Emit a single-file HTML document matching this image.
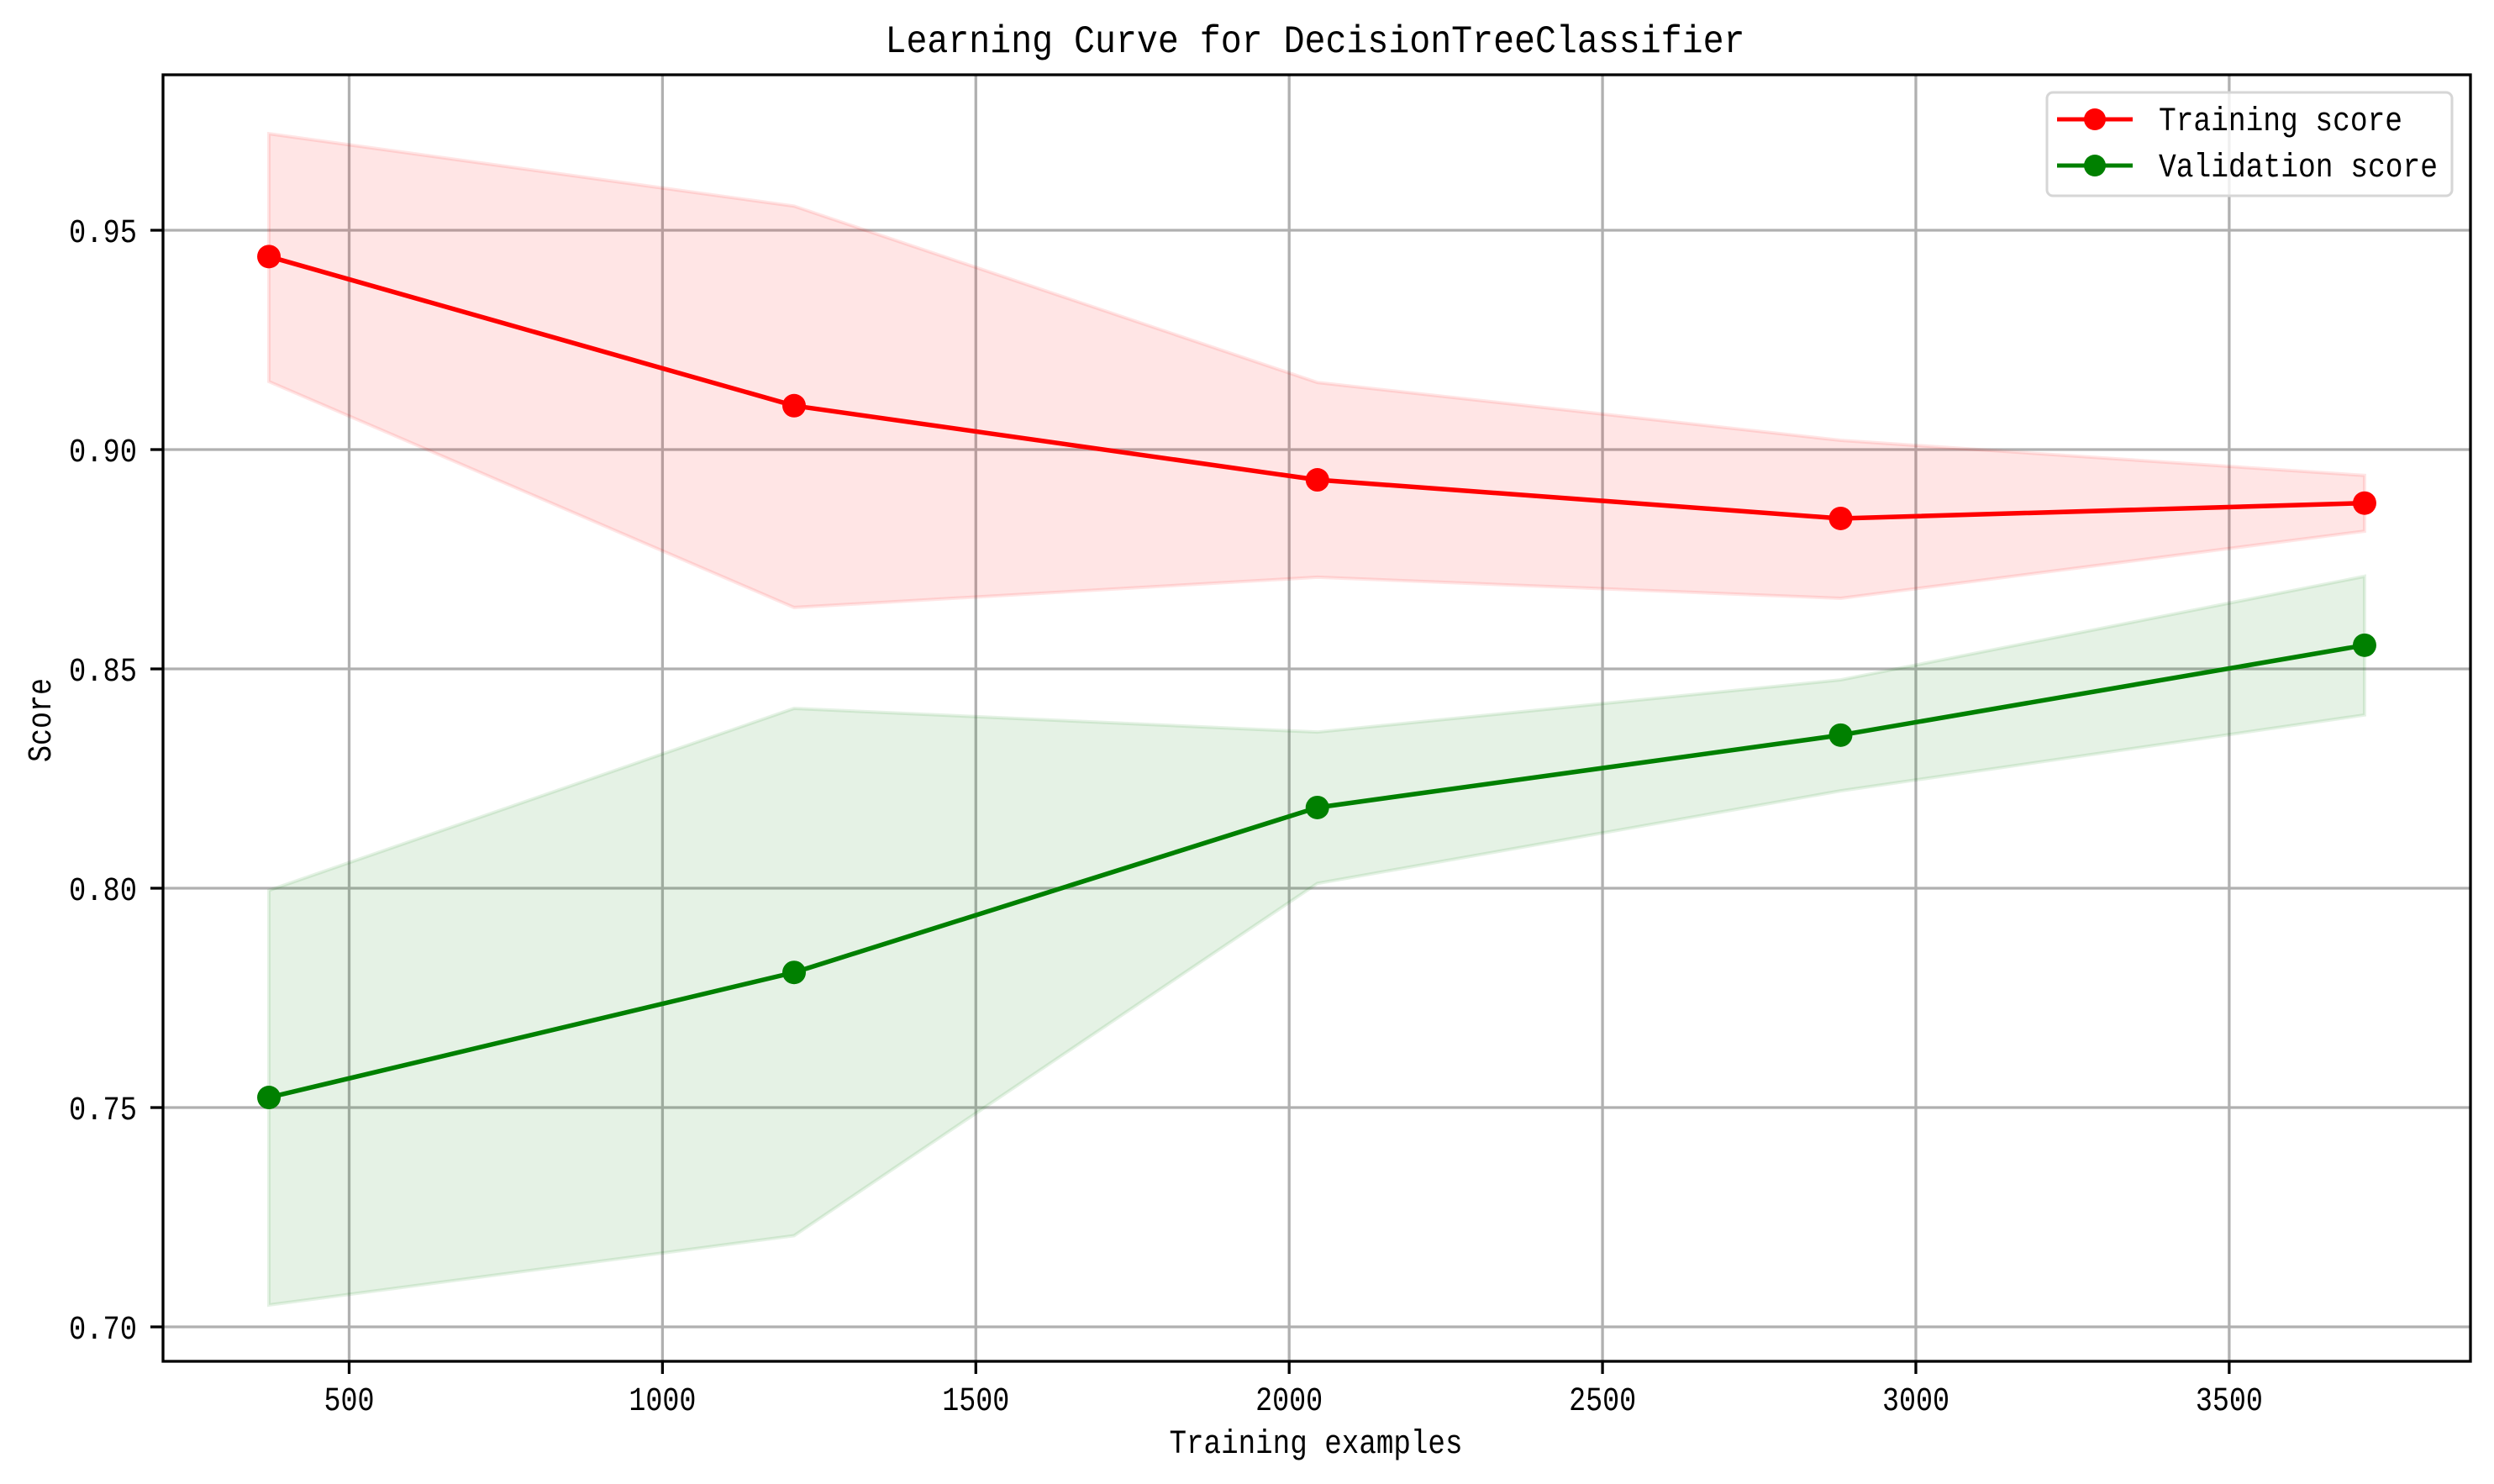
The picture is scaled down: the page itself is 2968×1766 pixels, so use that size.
<!DOCTYPE html>
<html><head><meta charset="utf-8"><style>html,body{margin:0;padding:0;background:#fff}svg{display:block}text{font-family:"Liberation Mono","Noto Sans CJK SC",monospace;fill:#000}</style></head>
<body>
<svg id="chart" width="2968" height="1766" viewBox="0 0 2968 1766" xmlns="http://www.w3.org/2000/svg">
<rect x="0" y="0" width="2968" height="1766" fill="#fff"/>
<g id="grid"></g>
<g id="bands"></g>
<g id="lines"></g>
<g id="axes"></g>
<text x="1565" y="62" font-size="46" text-anchor="middle" textLength="1023" lengthAdjust="spacingAndGlyphs">Learning Curve for DecisionTreeClassifier</text>
<text x="1566" y="1729" font-size="40" text-anchor="middle" textLength="349" lengthAdjust="spacingAndGlyphs">Training examples</text>
<text x="0" y="0" font-size="40" text-anchor="middle" transform="translate(60,857) rotate(-90)" textLength="100" lengthAdjust="spacingAndGlyphs">Score</text>
<g>
<rect x="2436" y="110" width="482" height="123" rx="7" fill="#fff" fill-opacity="0.8" stroke="#d6d6d6" stroke-width="3"/>
<line x1="2448" y1="142" x2="2538" y2="142" stroke="#ff0000" stroke-width="5"/>
<circle cx="2493" cy="142" r="13" fill="#ff0000"/>
<text x="2569" y="155" font-size="40" textLength="290" lengthAdjust="spacingAndGlyphs">Training score</text>
<line x1="2448" y1="197" x2="2538" y2="197" stroke="#008000" stroke-width="5"/>
<circle cx="2493" cy="197" r="13" fill="#008000"/>
<text x="2569" y="210" font-size="40" textLength="332" lengthAdjust="spacingAndGlyphs">Validation score</text>
</g>
</svg>
<script>
const trainSizes = [372, 1210, 2045, 2880, 3716];
const trainMean = [0.944, 0.910, 0.8931, 0.8843, 0.8878];
const trainUpper = [0.972, 0.9555, 0.9153, 0.9021, 0.8941];
const trainLower = [0.9155, 0.864, 0.8709, 0.8661, 0.8814];
const valMean = [0.7523, 0.7808, 0.8184, 0.8349, 0.8554];
const valUpper = [0.7995, 0.841, 0.8356, 0.8475, 0.8711];
const valLower = [0.705, 0.7208, 0.8011, 0.8222, 0.8395];
const xTicks = [500, 1000, 1500, 2000, 2500, 3000, 3500];
const yTicks = [0.70, 0.75, 0.80, 0.85, 0.90, 0.95];
const yTickLabels = ["0.70", "0.75", "0.80", "0.85", "0.90", "0.95"];

const L = 194, R = 2940, T = 89, B = 1620;
const xMin = 203, xMax = 3885, yMin = 0.69215, yMax = 0.98544;
function sx(v){ return L + (v - xMin) / (xMax - xMin) * (R - L); }
function sy(v){ return B - (v - yMin) / (yMax - yMin) * (B - T); }
const NS = "http://www.w3.org/2000/svg";
function mk(tag, attrs, parent){ const e = document.createElementNS(NS, tag); for (const k in attrs) e.setAttribute(k, attrs[k]); parent.appendChild(e); return e; }

const grid = document.getElementById('grid');
const axes = document.getElementById('axes');
xTicks.forEach(function(t){
  const x = sx(t);
  const g = mk('line', {x1:x, y1:T, x2:x, y2:B, stroke:'#b0b0b0', 'stroke-width':3.3}, grid);
  
  
  const tk = mk('line', {x1:x, y1:B, x2:x, y2:B+15, stroke:'#000', 'stroke-width':3.3}, axes);
  
  
  const lb = mk('text', {x:x, y:1678, 'font-size':40, 'text-anchor':'middle', textLength: String(t).length*20, lengthAdjust:'spacingAndGlyphs'}, axes);
  
  
  lb.textContent = String(t);
});
yTicks.forEach(function(t, i){
  const y = sy(t);
  const g = mk('line', {x1:L, y1:y, x2:R, y2:y, stroke:'#b0b0b0', 'stroke-width':3.3}, grid);
  
  
  const tk = mk('line', {x1:L-15, y1:y, x2:L, y2:y, stroke:'#000', 'stroke-width':3.3}, axes);
  
  
  const lb = mk('text', {x:163, y:y+14, 'font-size':40, 'text-anchor':'end', textLength:81, lengthAdjust:'spacingAndGlyphs'}, axes);
  
  
  lb.textContent = yTickLabels[i];
});
const frame = mk('rect', {x:L, y:T, width:R-L, height:B-T, fill:'none', stroke:'#000', 'stroke-width':3.3}, axes);



const bands = document.getElementById('bands');
function band(up, lo, color, name){
  let pts = [];
  for (let i = 0; i < trainSizes.length; i++) pts.push(sx(trainSizes[i]) + ',' + sy(up[i]));
  for (let i = trainSizes.length - 1; i >= 0; i--) pts.push(sx(trainSizes[i]) + ',' + sy(lo[i]));
  const p = mk('polygon', {points: pts.join(' '), fill: color, 'fill-opacity':0.1, stroke: color, 'stroke-opacity':0.1, 'stroke-width':4}, bands);
  
  
}
band(trainUpper, trainLower, '#ff0000', 'training-std-band');
band(valUpper, valLower, '#008000', 'validation-std-band');

const lines = document.getElementById('lines');
function series(vals, color, name){
  const pts = vals.map(function(v, i){ return sx(trainSizes[i]) + ',' + sy(v); }).join(' ');
  const pl = mk('polyline', {points: pts, fill:'none', stroke: color, 'stroke-width':5.5, 'stroke-linejoin':'round'}, lines);
  
  
  vals.forEach(function(v, i){
    const c = mk('circle', {cx: sx(trainSizes[i]), cy: sy(v), r: 14, fill: color}, lines);
    
    
  });
}
series(trainMean, '#ff0000', 'training-score');
series(valMean, '#008000', 'validation-score');
</script>
</body></html>
